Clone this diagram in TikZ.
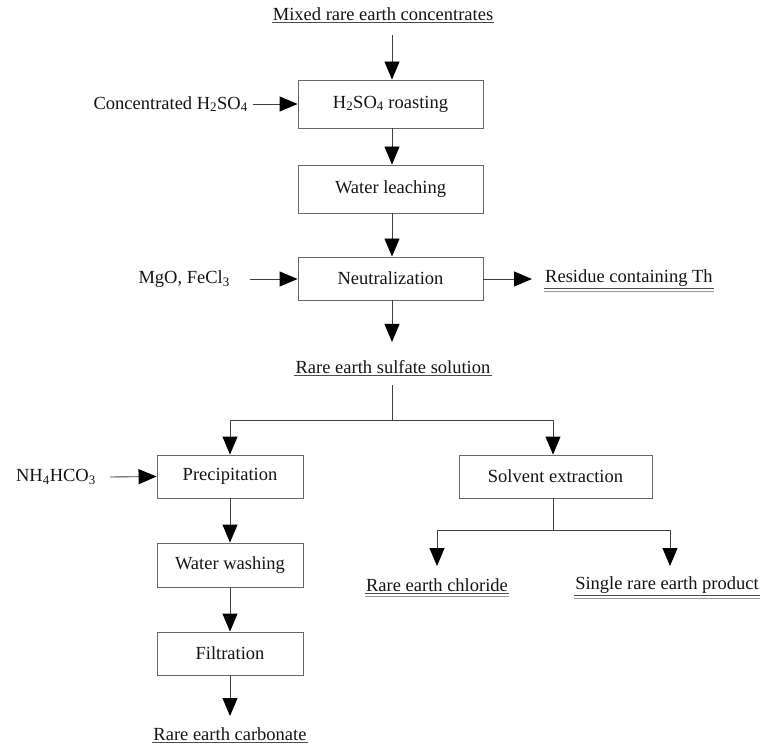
\documentclass[tikz,border=0pt]{standalone}
\usepackage{fontspec}
\setmainfont{Liberation Serif}
\usetikzlibrary{arrows.meta}
\begin{document}
\begin{tikzpicture}[x=1pt,y=-1pt,
  every node/.style={font=\fontsize{18.5}{22}\selectfont, text=black!92, inner sep=1pt},
  procbox/.style={draw=black!60, line width=0.9pt, minimum height=43pt},
  lbl/.style={},
  arr/.style={draw=black!75, line width=0.9pt, -{Triangle[width=15pt,length=18pt,color=black]}},
  ln/.style={draw=black!75, line width=0.9pt},
  ul/.style={draw=black!70, line width=0.8pt}]
\useasboundingbox (0,0) rectangle (769,754);
% boxes
\node[procbox, minimum width=185pt, minimum height=48pt] (roast) at (390.5,104) {H\textsubscript{2}SO\textsubscript{4} roasting};
\node[procbox, minimum width=185pt, minimum height=48pt] (leach) at (390.5,189) {Water leaching};
\node[procbox, minimum width=185pt] (neut) at (390.5,278.5) {Neutralization};
\node[procbox, minimum width=146pt] (prec) at (230,476.5) {Precipitation};
\node[procbox, minimum width=193pt] (solv) at (555.5,476.5) {Solvent extraction};
\node[procbox, minimum width=146pt, minimum height=44pt] (wash) at (230,565) {Water washing};
\node[procbox, minimum width=146pt] (filt) at (230,653.5) {Filtration};
% labels
\node[lbl] (mixed) at (383,14) {Mixed rare earth concentrates};
\node[lbl, anchor=east] (conc) at (249,104) {Concentrated H\textsubscript{2}SO\textsubscript{4}};
\node[lbl, anchor=east] (mgo) at (231,279) {MgO, FeCl\textsubscript{3}};
\node[lbl, anchor=west] (resid) at (544,278) {Residue containing Th};
\node[lbl] (sulf) at (393,367) {Rare earth sulfate solution};
\node[lbl, anchor=east] (nh4) at (97,477) {NH\textsubscript{4}HCO\textsubscript{3}};
\node[lbl] (chlor) at (437,585) {Rare earth chloride};
\node[lbl] (single) at (667,585) {Single rare earth product};
\node[lbl] (carb) at (230,734) {Rare earth carbonate};
% underlines
\draw[ul] ([yshift=-1pt]mixed.south west) -- ([yshift=-1pt]mixed.south east);
\draw[ul] ([yshift=-1pt]sulf.south west) -- ([yshift=-1pt]sulf.south east);
\draw[ul] ([yshift=-1pt]carb.south west) -- ([yshift=-1pt]carb.south east);
\foreach \n in {resid,chlor,single}{
  \draw[ul] ([yshift=-1pt]\n.south west) -- ([yshift=-1pt]\n.south east);
  \draw[ul, draw=black!40] ([yshift=-4pt]\n.south west) -- ([yshift=-4pt]\n.south east);
}
% coordinates
\coordinate (mixedout) at (392,35);
\coordinate (concout) at (253,104);
\coordinate (mgoout) at (250,279);
\coordinate (residin) at (532,279);
\coordinate (sulfin) at (392,342);
\coordinate (sulfout) at (392,385);
\coordinate (split1) at (392,420);
\coordinate (nh4out) at (110,477);
\coordinate (carbin) at (230,716);
\coordinate (split2) at (553,530);
\coordinate (chlorin) at (437,566);
\coordinate (singlein) at (670,566);
% connectors
\draw[arr] (mixedout) -- (mixedout |- roast.north);
\draw[arr] (concout) -- (roast.west);
\draw[arr] (roast.south -| mixedout) -- (leach.north -| mixedout);
\draw[arr] (leach.south -| mixedout) -- (neut.north -| mixedout);
\draw[arr] (mgoout) -- (mgoout -| neut.west);
\draw[arr] (mgoout -| neut.east) -- (residin);
\draw[arr] (neut.south -| sulfin) -- (sulfin);
\draw[ln] (sulfout) -- (split1);
\draw[arr] (split1) -| (prec.north);
\draw[arr] (split1) -| (solv.north -| split2);
\draw[arr] (nh4out) -- (prec.west);
\draw[arr] (prec) -- (wash);
\draw[arr] (wash) -- (filt);
\draw[arr] (filt.south) -- (carbin);
\draw[ln] (solv.south -| split2) -- (split2);
\draw[arr] (split2) -| (chlorin);
\draw[arr] (split2) -| (singlein);
\end{tikzpicture}
\end{document}
